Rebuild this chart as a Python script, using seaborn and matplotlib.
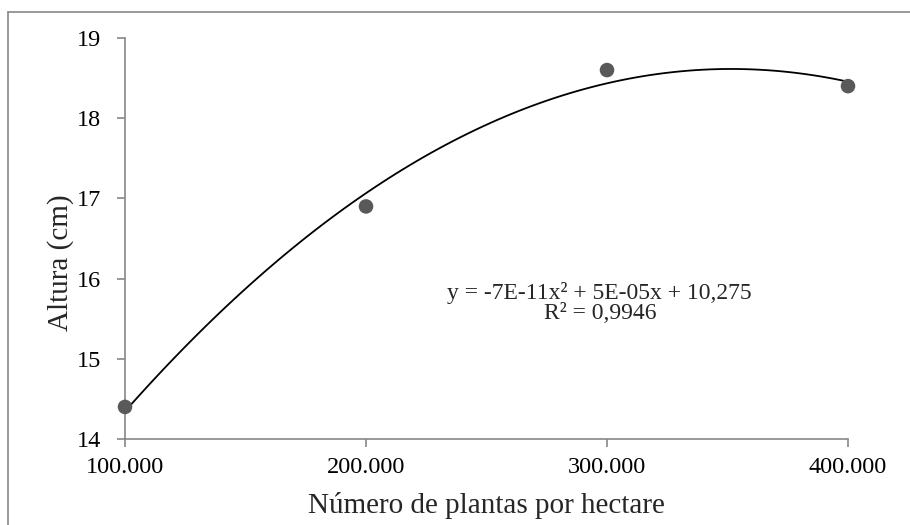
import matplotlib
matplotlib.use("Agg")
import matplotlib.pyplot as plt
import seaborn as sns
import pandas as pd
from matplotlib.lines import Line2D
from matplotlib.ticker import FuncFormatter

plantas = [100000, 200000, 300000, 400000]
altura = [14.4, 16.9, 18.6, 18.4]
x_ticks = [100000, 200000, 300000, 400000]
y_ticks = [14, 15, 16, 17, 18, 19]
equacao = "y = -7E-11x² + 5E-05x + 10,275\nR² = 0,9946"

sns.set_style("white")
plt.rcParams['font.family'] = ['Liberation Serif', 'DejaVu Serif']

df = pd.DataFrame({"plantas": plantas, "altura": altura})

fig = plt.figure(figsize=(9.1, 5.25), dpi=100)
ax = fig.add_axes([125/910, 1-439/525, (848-125)/910, (439-38)/525])

sns.regplot(data=df, x="plantas", y="altura", order=2, ci=None, ax=ax,
            scatter_kws=dict(s=110, color="#595959", edgecolor="none", alpha=1, zorder=3),
            line_kws=dict(color="black", lw=1.3, zorder=2))

ax.set_xlim(100000, 400000)
ax.set_ylim(14, 19)
ax.set_xticks(x_ticks)
ax.set_yticks(y_ticks)
ax.xaxis.set_major_formatter(FuncFormatter(lambda v, p: f"{int(v):,}".replace(",", ".")))
ax.yaxis.set_major_formatter(FuncFormatter(lambda v, p: f"{int(v)}"))

gray = "#878787"
for s in ["top", "right"]:
    ax.spines[s].set_visible(False)
for s in ["left", "bottom"]:
    ax.spines[s].set_visible(True)
    ax.spines[s].set_color(gray)
    ax.spines[s].set_linewidth(1.2)
    ax.spines[s].set_zorder(1)
ax.tick_params(axis="both", direction="out", length=6, width=1.2, color=gray,
               labelsize=17.5, labelcolor="black", left=True, bottom=True)
ax.tick_params(axis="y", pad=11)
ax.tick_params(axis="x", pad=7)
for c in ax.collections:
    c.set_clip_on(False)

ax.set_xlabel("Número de plantas por hectare", fontsize=21)
ax.set_ylabel("Altura (cm)", fontsize=21)
ax.xaxis.set_label_coords(0.5, (439-492)/401)
ax.yaxis.set_label_coords((74-125)/723, (439-263)/401)

ax.text(600/1 and 297000, 15.70, equacao, ha="center", va="center", fontsize=17,
        linespacing=0.95)

fig.add_artist(Line2D([8/910, 8/910], [0, 1-12/525], transform=fig.transFigure,
                      color=gray, lw=1.2))
fig.add_artist(Line2D([8/910, 1], [1-12/525, 1-12/525], transform=fig.transFigure,
                      color=gray, lw=1.2))

fig.savefig("out.png", dpi=100)
